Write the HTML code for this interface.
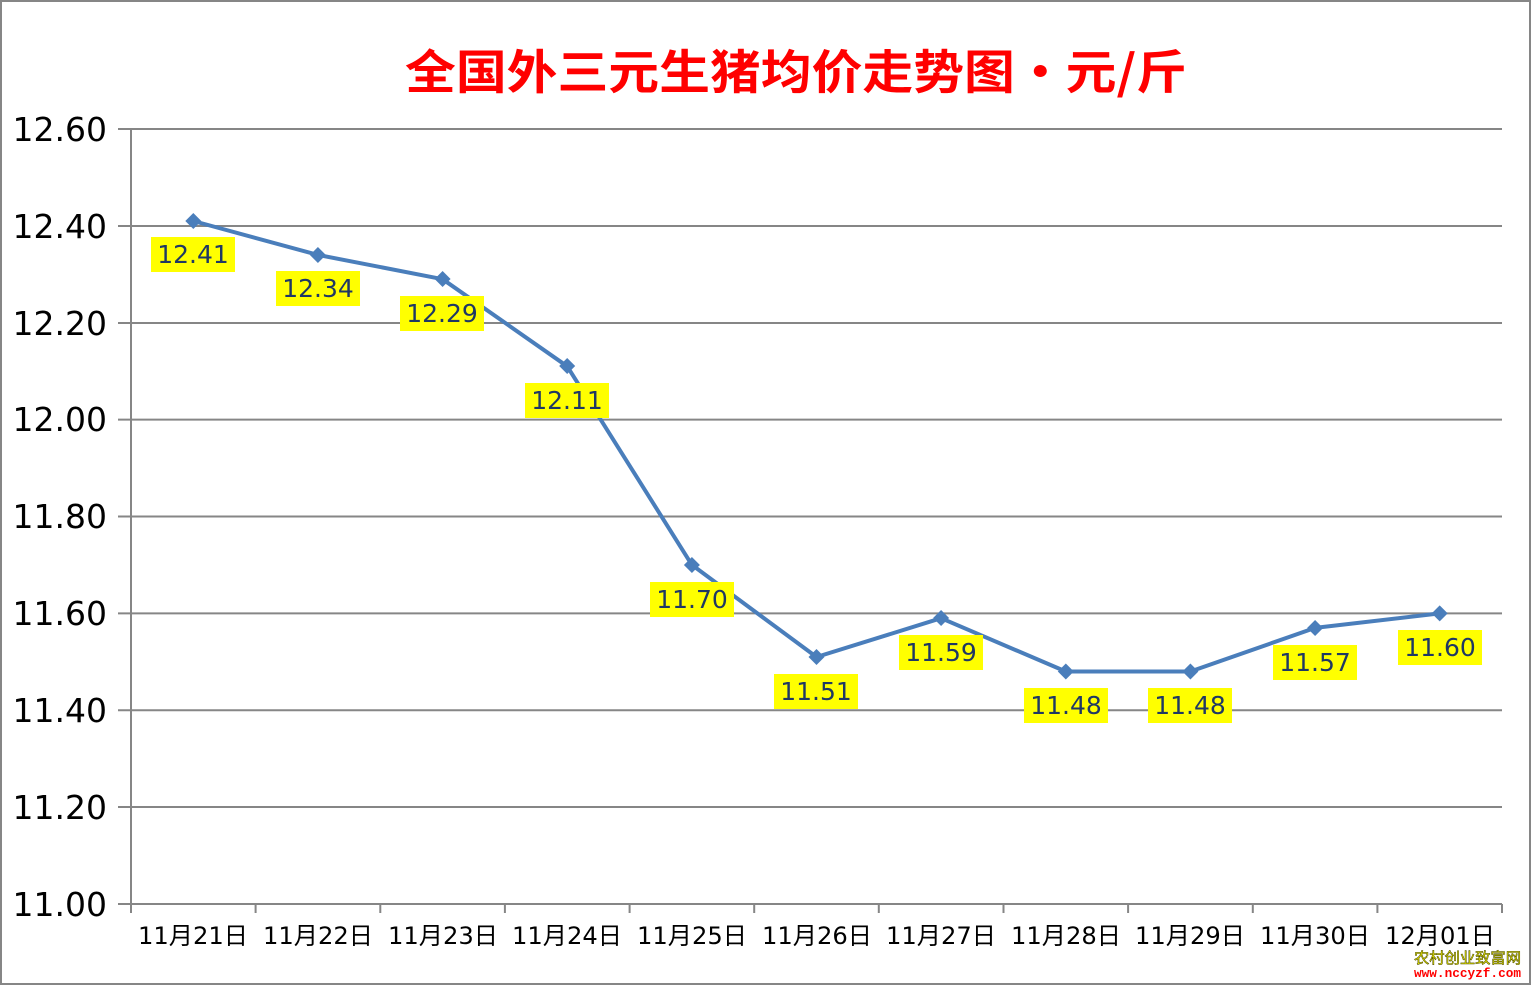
<!DOCTYPE html>
<html><head><meta charset="utf-8"><style>
html,body{margin:0;padding:0;background:#fff}
svg{display:block}
</style></head><body>
<svg width="1531" height="985" xmlns="http://www.w3.org/2000/svg" font-family="'DejaVu Sans','Liberation Sans','Noto Sans CJK SC',sans-serif">
<rect x="1" y="1" width="1529" height="983" fill="#fff" stroke="#868686" stroke-width="2"/>
<text x="405" y="89" font-size="47" font-weight="bold" fill="#ff0000" font-family="'Noto Sans CJK SC','WenQuanYi Zen Hei',sans-serif" textLength="782" lengthAdjust="spacingAndGlyphs">全国外三元生猪均价走势图・元/斤</text>
<g stroke="#868686" stroke-width="2">
<line x1="118" y1="129" x2="1502" y2="129"/>
<line x1="118" y1="226" x2="1502" y2="226"/>
<line x1="118" y1="323" x2="1502" y2="323"/>
<line x1="118" y1="419.6" x2="1502" y2="419.6"/>
<line x1="118" y1="516.5" x2="1502" y2="516.5"/>
<line x1="118" y1="613.4" x2="1502" y2="613.4"/>
<line x1="118" y1="710.3" x2="1502" y2="710.3"/>
<line x1="118" y1="807" x2="1502" y2="807"/>
<line x1="118" y1="904" x2="1502" y2="904"/>
<line x1="131" y1="129" x2="131" y2="913"/>
<line x1="255.6" y1="904" x2="255.6" y2="913"/>
<line x1="380.3" y1="904" x2="380.3" y2="913"/>
<line x1="504.9" y1="904" x2="504.9" y2="913"/>
<line x1="629.6" y1="904" x2="629.6" y2="913"/>
<line x1="754.2" y1="904" x2="754.2" y2="913"/>
<line x1="878.8" y1="904" x2="878.8" y2="913"/>
<line x1="1003.5" y1="904" x2="1003.5" y2="913"/>
<line x1="1128.1" y1="904" x2="1128.1" y2="913"/>
<line x1="1252.8" y1="904" x2="1252.8" y2="913"/>
<line x1="1377.4" y1="904" x2="1377.4" y2="913"/>
<line x1="1502" y1="904" x2="1502" y2="913"/>
</g>
<g font-size="33" fill="#000" text-anchor="end">
<text x="107" y="141">12.60</text>
<text x="107" y="238">12.40</text>
<text x="107" y="335">12.20</text>
<text x="107" y="431">12.00</text>
<text x="107" y="528">11.80</text>
<text x="107" y="625">11.60</text>
<text x="107" y="722">11.40</text>
<text x="107" y="819">11.20</text>
<text x="107" y="916">11.00</text>
</g>
<g font-size="24" fill="#000" font-family="'DejaVu Sans','Noto Sans CJK SC',sans-serif">
<text x="138" y="944" textLength="110" lengthAdjust="spacingAndGlyphs">11月21日</text>
<text x="263" y="944" textLength="110" lengthAdjust="spacingAndGlyphs">11月22日</text>
<text x="388" y="944" textLength="110" lengthAdjust="spacingAndGlyphs">11月23日</text>
<text x="512" y="944" textLength="110" lengthAdjust="spacingAndGlyphs">11月24日</text>
<text x="637" y="944" textLength="110" lengthAdjust="spacingAndGlyphs">11月25日</text>
<text x="762" y="944" textLength="110" lengthAdjust="spacingAndGlyphs">11月26日</text>
<text x="886" y="944" textLength="110" lengthAdjust="spacingAndGlyphs">11月27日</text>
<text x="1011" y="944" textLength="110" lengthAdjust="spacingAndGlyphs">11月28日</text>
<text x="1135" y="944" textLength="110" lengthAdjust="spacingAndGlyphs">11月29日</text>
<text x="1260" y="944" textLength="110" lengthAdjust="spacingAndGlyphs">11月30日</text>
<text x="1385" y="944" textLength="110" lengthAdjust="spacingAndGlyphs">12月01日</text>
</g>
<polyline fill="none" stroke="#4a7ebb" stroke-width="4" stroke-linejoin="round" points="193.3,221 317.9,254.9 442.6,279.2 567.2,366.3 691.9,564.9 816.5,657 941.1,618.2 1065.8,671.5 1190.4,671.5 1315.1,627.9 1439.7,613.4"/>
<g fill="#4a7ebb">
<path d="M193.3,213 l8,8 -8,8 -8,-8z"/>
<path d="M317.9,247 l8,8 -8,8 -8,-8z"/>
<path d="M442.6,271 l8,8 -8,8 -8,-8z"/>
<path d="M567.2,358 l8,8 -8,8 -8,-8z"/>
<path d="M691.9,557 l8,8 -8,8 -8,-8z"/>
<path d="M816.5,649 l8,8 -8,8 -8,-8z"/>
<path d="M941.1,610 l8,8 -8,8 -8,-8z"/>
<path d="M1065.8,663.5 l8,8 -8,8 -8,-8z"/>
<path d="M1190.4,663.5 l8,8 -8,8 -8,-8z"/>
<path d="M1315.1,620 l8,8 -8,8 -8,-8z"/>
<path d="M1439.7,605.4 l8,8 -8,8 -8,-8z"/>
</g>
<g fill="#ffff00">
<rect x="151" y="237" width="84" height="35"/>
<rect x="276" y="271" width="84" height="35"/>
<rect x="400" y="296" width="84" height="35"/>
<rect x="525" y="383" width="84" height="35"/>
<rect x="650" y="582" width="84" height="35"/>
<rect x="774" y="674" width="84" height="35"/>
<rect x="899" y="635" width="84" height="35"/>
<rect x="1024" y="688" width="84" height="35"/>
<rect x="1148" y="688" width="84" height="35"/>
<rect x="1273" y="645" width="84" height="35"/>
<rect x="1398" y="630" width="84" height="35"/>
</g>
<g font-size="25" fill="#1f3864" text-anchor="middle">
<text x="193" y="263">12.41</text>
<text x="318" y="297">12.34</text>
<text x="442" y="322">12.29</text>
<text x="567" y="409">12.11</text>
<text x="692" y="608">11.70</text>
<text x="816" y="700">11.51</text>
<text x="941" y="661">11.59</text>
<text x="1066" y="714">11.48</text>
<text x="1190" y="714">11.48</text>
<text x="1315" y="671">11.57</text>
<text x="1440" y="656">11.60</text>
</g>
<rect x="1413" y="948" width="112" height="34" fill="#fff"/>
<text x="1414" y="963" font-size="15" fill="#ffff00" stroke="#555500" stroke-width="0.6" font-family="'Noto Sans CJK SC',sans-serif" textLength="107" lengthAdjust="spacingAndGlyphs">农村创业致富网</text>
<text x="1414" y="977" font-size="13" font-weight="bold" fill="#ff0000" font-family="'Liberation Mono',monospace" textLength="107" lengthAdjust="spacingAndGlyphs">www.nccyzf.com</text>
</svg>
</body></html>
